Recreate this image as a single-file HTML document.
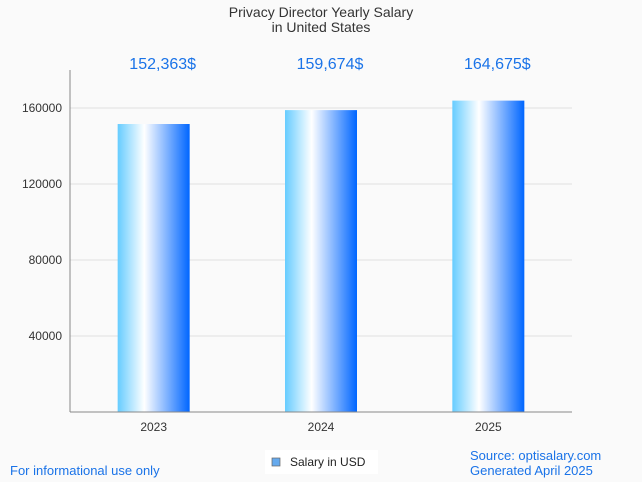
<!DOCTYPE html>
<html><head><meta charset="utf-8"><style>
body{margin:0;background:#fafafa;font-family:"Liberation Sans",sans-serif;}
svg{display:block}
</style></head><body>
<svg width="642" height="482">
<defs><linearGradient id="g" x1="0" x2="1" y1="0" y2="0">
<stop offset="0" stop-color="#66ccff"/><stop offset="0.37" stop-color="#ffffff"/><stop offset="1" stop-color="#0066ff"/>
</linearGradient></defs>
<rect width="642" height="482" fill="#fafafa"/>
<text x="321" y="17" text-anchor="middle" font-size="14" fill="#333">Privacy Director Yearly Salary</text>
<text x="321" y="32" text-anchor="middle" font-size="14" fill="#333">in United States</text>
<g id="grid"></g><g id="bars"></g>
<line x1="70" y1="70" x2="70" y2="412" stroke="#888"/>
<line x1="70" y1="412" x2="572" y2="412" stroke="#888"/>
<rect x="265" y="450" width="113" height="24" fill="#fff"/>
<rect x="272" y="458" width="8" height="8" fill="#66aaee" stroke="#666" stroke-width="0.7"/>
<text x="290" y="466" font-size="12" fill="#222">Salary in USD</text>
<text x="10" y="475" font-size="13" fill="#1a73e8">For informational use only</text>
<text x="470" y="460" font-size="13" fill="#1a73e8">Source: optisalary.com</text>
<text x="470" y="475" font-size="13" fill="#1a73e8">Generated April 2025</text>
</svg>
<script>
const categories=["2023","2024","2025"];
const values=[152363,159674,164675];
const valueLabels=["152,363$","159,674$","164,675$"];
const yTicks=[40000,80000,120000,160000];
const NS="http://www.w3.org/2000/svg";
const x0=70,x1=572,yb=412,yt=70,ymax=180000;
const band=(x1-x0)/categories.length;
const y=v=>yb-(v/ymax)*(yb-yt);
const xc=i=>x0+band*(i+0.5);
function mk(tag,attrs,parent,txt){const e=document.createElementNS(NS,tag);for(const k in attrs)e.setAttribute(k,attrs[k]);if(txt)e.textContent=txt;parent.appendChild(e);return e;}
const grid=document.getElementById('grid'),bars=document.getElementById('bars');
yTicks.forEach(t=>{
 const l=mk('line',{x1:x0,x2:x1,y1:y(t),y2:y(t),stroke:'#e0e0e0'},grid);
 
 
 const tx=mk('text',{x:62,y:y(t)+4,'text-anchor':'end','font-size':12,fill:'#333'},grid,String(t));
 
 
});
categories.forEach((c,i)=>{
 const w=72;
 const top=y(values[i])+1.5;
 const r=mk('rect',{x:xc(i)-w/2,y:top,width:w,height:yb-top,fill:'url(#g)'},bars);
 
 
 const vl=mk('text',{x:xc(i)+9,y:69,'text-anchor':'middle','font-size':16,fill:'#1a73e8'},bars,valueLabels[i]);
 
 
 const xl=mk('text',{x:xc(i),y:431,'text-anchor':'middle','font-size':12,fill:'#333'},bars,c);
 
 
});
</script>
</body></html>
